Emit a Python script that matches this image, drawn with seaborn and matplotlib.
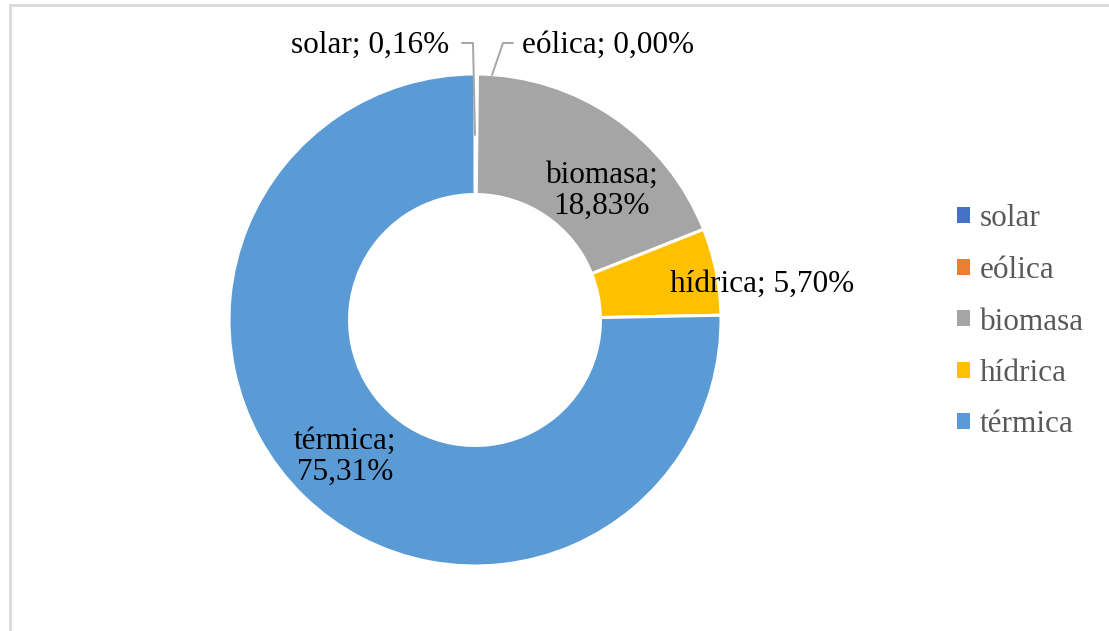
import matplotlib
matplotlib.use("Agg")
import matplotlib.pyplot as plt
from matplotlib.patches import Patch, Rectangle
import seaborn as sns
import numpy as np

categories = ["solar", "eólica", "biomasa", "hídrica", "térmica"]
values = [0.16, 0.00, 18.83, 5.70, 75.31]
value_labels = ["0,16%", "0,00%", "18,83%", "5,70%", "75,31%"]
colors = ["#4472C4", "#ED7D31", "#A5A5A5", "#FFC000", "#5B9BD5"]

sns.set_theme(style="white")
plt.rcParams["font.family"] = ["Liberation Serif", "DejaVu Serif"]

W, H = 1109, 631
fig = plt.figure(figsize=(W / 100, H / 100), dpi=100)
fig.patch.set_facecolor("white")

cx, cy, R = 475, 320, 246
ax = fig.add_axes([(cx - R) / W, (H - cy - R) / H, 2 * R / W, 2 * R / H])
wedges, _ = ax.pie(values, colors=colors, startangle=90, counterclock=False,
                   radius=1.0, wedgeprops=dict(width=0.49, edgecolor="white", linewidth=2.2))
ax.set_xlim(-1, 1)
ax.set_ylim(-1, 1)
ax.axis("off")

fs = 22.5
def p2d(px, py):
    return ((px - cx) / R, (cy - py) / R)

# data labels
x, y = p2d(602, 191)
ax.text(x, y, f"{categories[2]};\n{value_labels[2]}", ha="center", va="center",
        fontsize=fs, color="black", linespacing=1.12)
x, y = p2d(762, 284)
ax.text(x, y, f"{categories[3]}; {value_labels[3]}", ha="center", va="center",
        fontsize=fs, color="black")
x, y = p2d(345, 457)
ax.text(x, y, f"{categories[4]};\n{value_labels[4]}", ha="center", va="center",
        fontsize=fs, color="black", linespacing=1.12)
x, y = p2d(449, 45)
ax.text(x, y, f"{categories[0]}; {value_labels[0]}", ha="right", va="center",
        fontsize=fs, color="black")
x, y = p2d(522, 45)
ax.text(x, y, f"{categories[1]}; {value_labels[1]}", ha="left", va="center",
        fontsize=fs, color="black")

# leader lines
lc = "#A6A6A6"
pts = [p2d(462, 43), p2d(473, 43), p2d(475, 135)]
ax.plot([p[0] for p in pts], [p[1] for p in pts], color=lc, lw=1.4, clip_on=False)
pts = [p2d(513, 43), p2d(503, 43), p2d(492, 75)]
ax.plot([p[0] for p in pts], [p[1] for p in pts], color=lc, lw=1.4, clip_on=False)

# legend
handles = [Patch(facecolor=c, edgecolor="none") for c in colors]
leg = fig.legend(handles, categories, loc="center left",
                 bbox_to_anchor=(957 / W, (H - 322) / H), frameon=False,
                 fontsize=fs, labelcolor="#595959", handlelength=0.4, handleheight=0.4,
                 handletextpad=0.32, labelspacing=0.72, borderaxespad=0, borderpad=0)

# chart frame
fig.patches.append(Rectangle((9.5 / W, -0.1), 1.2, (H - 5) / H + 0.1, transform=fig.transFigure,
                             fill=False, edgecolor="#D9D9D9", lw=2))

fig.savefig("out.png", dpi=100)
